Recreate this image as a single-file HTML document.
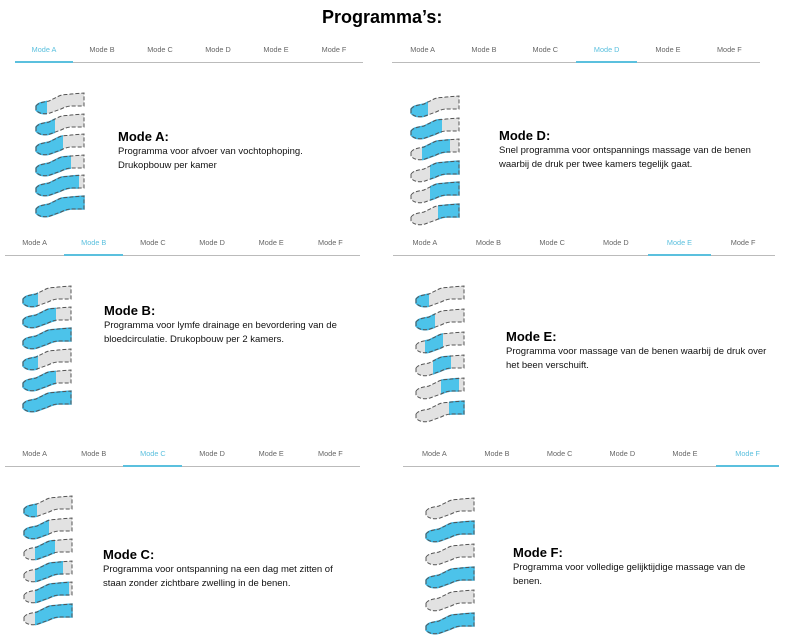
<!DOCTYPE html>
<html><head><meta charset="utf-8"><style>
body{margin:0;width:799px;height:637px;background:#fff;position:relative;overflow:hidden;font-family:"Liberation Sans",sans-serif;}
.t{position:absolute;white-space:nowrap;}
.h{font-weight:bold;font-size:18px;color:#000;}
.tab{font-size:7.3px;color:#666;}
.act{color:#5bc0de;}
.ln{position:absolute;height:1px;background:#bbb;}
.ul{position:absolute;height:2px;background:#5bc0de;}
.mt{font-weight:bold;font-size:13px;color:#000;}
.tx{font-size:9.5px;color:#111;line-height:13.5px;}
svg{position:absolute;}
</style></head><body>
<div class="t h" style="left:322px;top:7px;">Programma’s:</div>
<div id="root"></div>
<script>
const P=[
 {tx:15,tw:348,ty:45,act:0,lx:35,ly:92,sp:20.5,mx:118,my:129,t:"Mode A:",d:["Programma voor afvoer van vochtophoping.","Drukopbouw per kamer"],
  r:[[0,12],[0,20],[0,28],[0,36],[0,44],[0,50]]},
 {tx:5,tw:355,ty:238,act:1,lx:22,ly:285,sp:21,mx:104,my:303,t:"Mode B:",d:["Programma voor lymfe drainage en bevordering van de","bloedcirculatie. Drukopbouw per 2 kamers."],
  r:[[0,16],[0,34],[0,50],[0,16],[0,34],[0,50]]},
 {tx:5,tw:355,ty:449,act:2,lx:23,ly:495,sp:21.5,mx:103,my:547,t:"Mode C:",d:["Programma voor ontspanning na een dag met zitten of","staan zonder zichtbare zwelling in de benen."],
  r:[[0,14],[0,26],[12,32],[12,40],[12,46],[12,50]]},
 {tx:392,tw:368,ty:45,act:3,lx:410,ly:95,sp:21.5,mx:499,my:128,t:"Mode D:",d:["Snel programma voor ontspannings massage van de benen","waarbij de druk per twee kamers tegelijk gaat."],
  r:[[0,18],[0,32],[12,40],[20,50],[20,50],[28,50]]},
 {tx:393,tw:382,ty:238,act:4,lx:415,ly:285,sp:23,mx:506,my:329,t:"Mode E:",d:["Programma voor massage van de benen waarbij de druk over","het been verschuift."],
  r:[[0,14],[0,20],[10,28],[18,36],[26,44],[34,50]]},
 {tx:403,tw:376,ty:449,act:5,lx:425,ly:497,sp:23,mx:513,my:545,t:"Mode F:",d:["Programma voor volledige gelijktijdige massage van de","benen."],
  r:[null,[0,50],null,[0,50],null,[0,50]]}
];
const L=["Mode A","Mode B","Mode C","Mode D","Mode E","Mode F"];
const leg="M1,14 C4,10 10,10 14,9 L24,4 C28,2 32,3 36,2 L49,1 L49,14 L38,14 C33,14 30,15 26,17 L15,21 C10,22.5 4,22 1,18 Z";
let h="",id=0;
P.forEach(p=>{
 const w=p.tw/6;
 L.forEach((l,i)=>{h+=`<div class="t tab${i==p.act?' act':''}" style="left:${p.tx+i*w}px;width:${w}px;text-align:center;top:${p.ty}px;">${l}</div>`;});
 h+=`<div class="ln" style="left:${p.tx}px;top:${p.ty+17}px;width:${p.tw}px"></div>`;
 h+=`<div class="ul" style="left:${p.tx+p.act*w}px;top:${p.ty+16}px;width:${w}px"></div>`;
 p.r.forEach((r,k)=>{
  id++;
  let s=`<svg style="left:${p.lx}px;top:${p.ly+k*p.sp}px" width="50" height="23" viewBox="0 0 50 23">`;
  s+=`<path d="${leg}" fill="#e2e2e2"/>`;
  if(r){s+=`<clipPath id="c${id}"><rect x="${r[0]}" y="0" width="${r[1]-r[0]}" height="23"/></clipPath><path d="${leg}" fill="#4cc3ea" stroke="#3ab4e0" stroke-width="1.5" clip-path="url(#c${id})"/>`;}
  s+=`<path d="${leg}" fill="none" stroke="#555" stroke-width="1" stroke-dasharray="4,2"/></svg>`;
  h+=s;
 });
 h+=`<div class="t mt" style="left:${p.mx}px;top:${p.my}px">${p.t}</div>`;
 h+=`<div class="t tx" style="left:${p.mx}px;top:${p.my+16}px">${p.d.join("<br>")}</div>`;
});
document.getElementById("root").innerHTML=h;
</script>
</body></html>
